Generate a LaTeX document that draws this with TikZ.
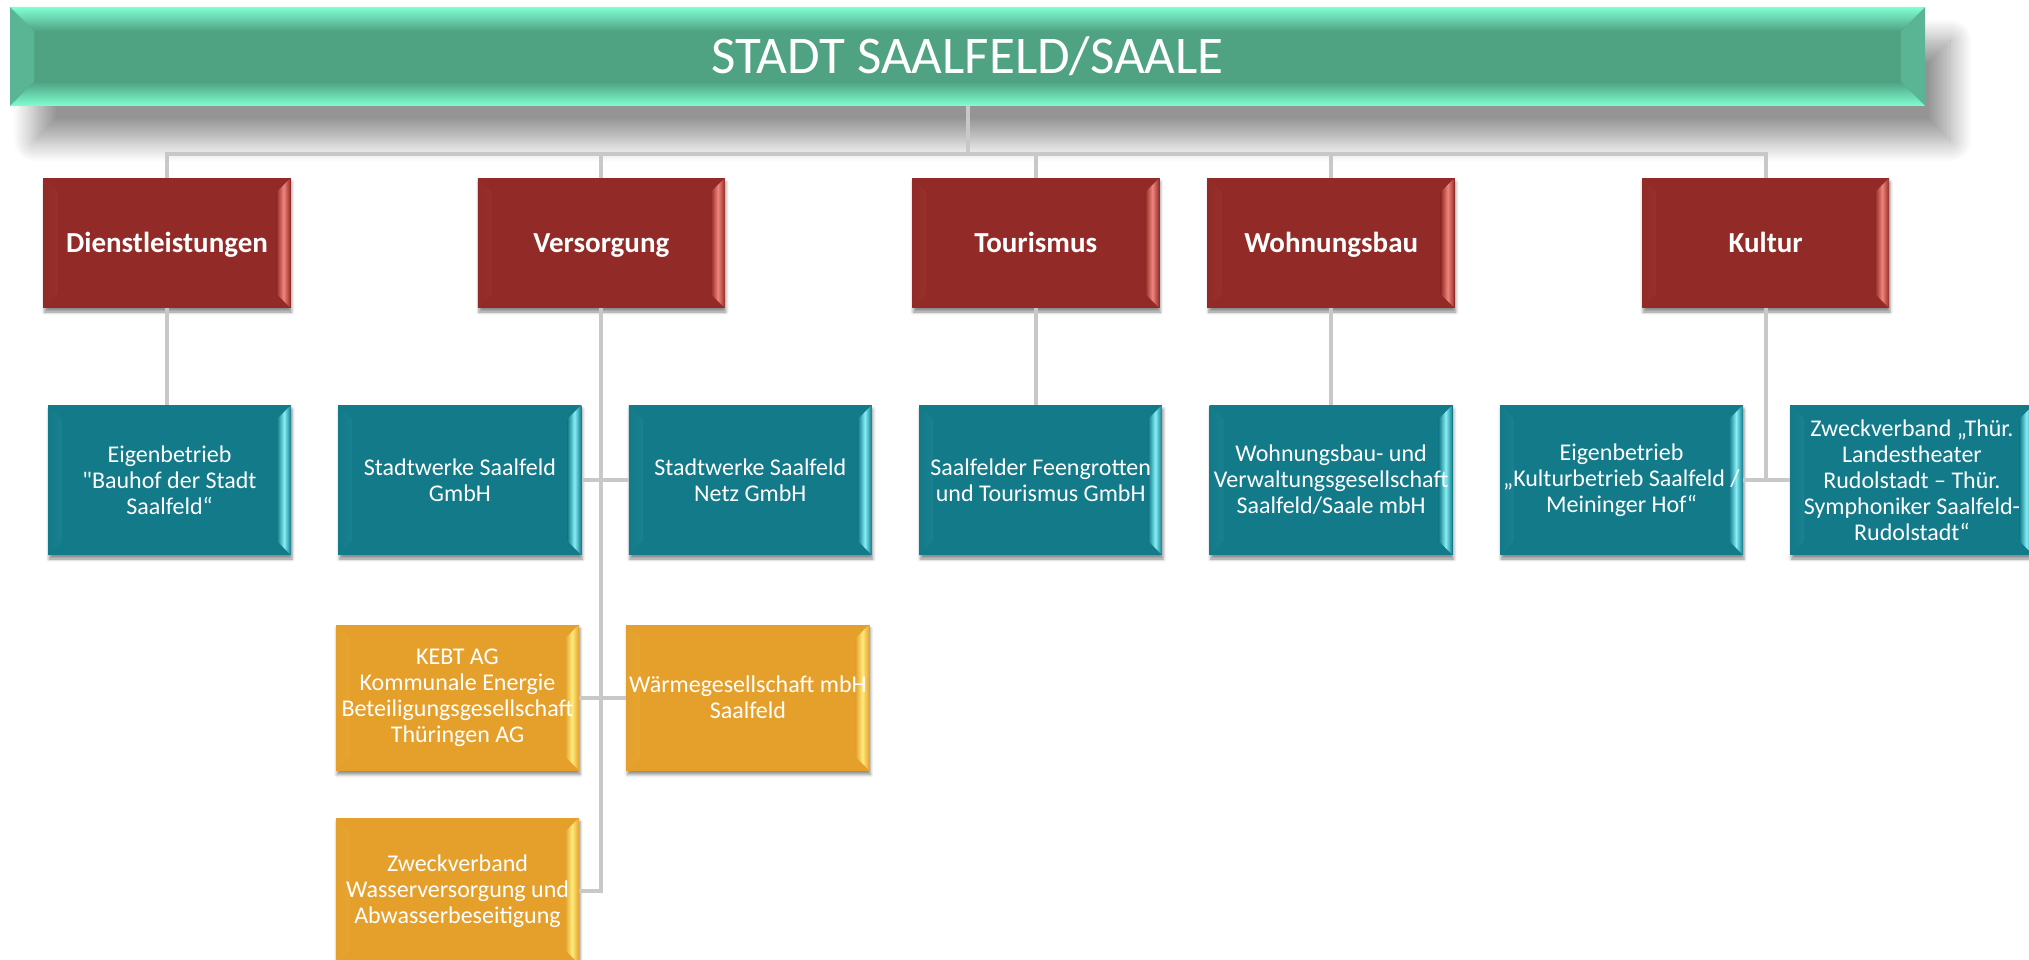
\documentclass[tikz,border=0pt]{standalone}
\usepackage{fontspec}
\setmainfont{Carlito}
\usetikzlibrary{positioning,shadows.blur}

\definecolor{bannergreen}{HTML}{4FA383}
\definecolor{bannerlight}{HTML}{80FFD2}
\definecolor{boxred}{HTML}{922B27}
\definecolor{boxredlight}{HTML}{F0857C}
\definecolor{boxteal}{HTML}{127A89}
\definecolor{boxteallight}{HTML}{86EEF5}
\definecolor{boxorange}{HTML}{E5A02C}
\definecolor{boxorangelight}{HTML}{FFEB7A}
\definecolor{linegrey}{HTML}{C8C8C8}

\begin{document}
\begin{tikzpicture}[x=1pt, y=-1pt,
    sidebevel/.style 2 args={path picture={
        \shade[left color=#1, right color=#2]
            (path picture bounding box.north west)
            -- ([shift={(14pt,-14pt)}]path picture bounding box.north west)
            -- ([shift={(14pt,14pt)}]path picture bounding box.south west)
            -- (path picture bounding box.south west) -- cycle;
        \shade[left color=#1, right color=#1, middle color=#2]
            (path picture bounding box.north east)
            -- ([shift={(-14pt,-14pt)}]path picture bounding box.north east)
            -- ([shift={(-14pt,14pt)}]path picture bounding box.south east)
            -- (path picture bounding box.south east) -- cycle;
    }},
    bannerbox/.style={rectangle, fill=bannergreen, minimum width=1915pt, minimum height=99pt,
        inner sep=0pt, text=white, font=\fontsize{53}{60}\selectfont,
        blur shadow={shadow xshift=25pt, shadow yshift=-34pt, shadow blur radius=22pt,
            shadow blur steps=20, shadow opacity=42},
        path picture={
            \fill[bannergreen!80!bannerlight]
                (path picture bounding box.north west)
                -- ([shift={(24pt,-24pt)}]path picture bounding box.north west)
                -- ([shift={(24pt,24pt)}]path picture bounding box.south west)
                -- (path picture bounding box.south west) -- cycle;
            \fill[bannergreen!80!bannerlight]
                (path picture bounding box.north east)
                -- ([shift={(-24pt,-24pt)}]path picture bounding box.north east)
                -- ([shift={(-24pt,24pt)}]path picture bounding box.south east)
                -- (path picture bounding box.south east) -- cycle;
            \shade[top color=bannerlight, bottom color=bannergreen]
                (path picture bounding box.north west)
                -- (path picture bounding box.north east)
                -- ([shift={(-24pt,-24pt)}]path picture bounding box.north east)
                -- ([shift={(24pt,-24pt)}]path picture bounding box.north west) -- cycle;
            \shade[top color=bannergreen, bottom color=bannerlight]
                (path picture bounding box.south west)
                -- (path picture bounding box.south east)
                -- ([shift={(-24pt,24pt)}]path picture bounding box.south east)
                -- ([shift={(24pt,24pt)}]path picture bounding box.south west) -- cycle;
        }},
    topbox/.style={rectangle, fill=boxred, minimum width=247pt, minimum height=130pt, inner sep=0pt,
        text=white, text height=20pt, text depth=2pt, font=\fontsize{29}{34}\selectfont\bfseries,
        sidebevel={boxred}{boxredlight},
        blur shadow={shadow xshift=1pt, shadow yshift=-4pt, shadow blur radius=3pt, shadow opacity=45}},
    firmbox/.style={rectangle, fill=boxteal, minimum width=243pt, minimum height=150pt, inner sep=0pt,
        text=white, align=center, font=\fontsize{24}{26}\selectfont, sidebevel={boxteal}{boxteallight},
        blur shadow={shadow xshift=1pt, shadow yshift=-4pt, shadow blur radius=3pt, shadow opacity=45}},
    partbox/.style={firmbox, fill=boxorange, minimum height=146pt, sidebevel={boxorange}{boxorangelight}},
    linkline/.style={draw=linegrey, line width=4pt}]

    \useasboundingbox (0,0) rectangle (2029,960);

    \node[bannerbox] (stadt) at (967.5,56.5) {STADT SAALFELD/SAALE};
    \coordinate (bus) at (967.5,154);

    \node[topbox] (dienst) at (167,243) {Dienstleistungen};
    \node[topbox] (vers) [right=187pt of dienst] {Versorgung};
    \node[topbox] (tour) [right=187pt of vers] {Tourismus};
    \node[topbox] (wohn) [right=48pt of tour] {Wohnungsbau};
    \node[topbox] (kultur) [right=187pt of wohn] {Kultur};

    \node[firmbox] (bauhof) at (169.5,480) {Eigenbetrieb\\\textquotedbl Bauhof der Stadt\\Saalfeld“};
    \node[firmbox] (swsaal) [right=47pt of bauhof] {Stadtwerke Saalfeld\\GmbH};
    \node[firmbox] (swnetz) [right=47pt of swsaal] {Stadtwerke Saalfeld\\Netz GmbH};
    \node[firmbox] (feen) [right=47pt of swnetz] {Saalfelder Feengrotten\\und Tourismus GmbH};
    \node[firmbox] (wbv) [right=47pt of feen] {Wohnungsbau- und\\Verwaltungsgesellschaft\\Saalfeld/Saale mbH};
    \node[firmbox] (kbetr) [right=47pt of wbv] {Eigenbetrieb\\„Kulturbetrieb Saalfeld /\\Meininger Hof“};
    \node[firmbox] (theater) [right=47pt of kbetr] {Zweckverband „Thür.\\Landestheater\\Rudolstadt – Thür.\\Symphoniker Saalfeld-\\Rudolstadt“};

    \node[partbox] (kebt) at (457.5,697.5) {KEBT AG\\Kommunale Energie\\Beteiligungsgesellschaft\\Thüringen AG};
    \node[partbox] (waerme) [right=47pt of kebt] {Wärmegesellschaft mbH\\Saalfeld};
    \node[partbox] (zwav) [below=47pt of kebt] {Zweckverband\\Wasserversorgung und\\Abwasserbeseitigung};

    % connectors
    \draw[linkline] (stadt.south) -- (bus);
    \draw[linkline] (dienst.north) |- (bus) -| (kultur.north);
    \draw[linkline] (vers.north) -- (vers.north |- bus);
    \draw[linkline] (tour.north) -- (tour.north |- bus);
    \draw[linkline] (wohn.north) -- (wohn.north |- bus);

    \draw[linkline] (dienst.south) -- (dienst.south |- bauhof.north);
    \draw[linkline] (vers.south) -- (vers.south |- zwav.east) -- (zwav.east);
    \draw[linkline] (swsaal.east) -- (swnetz.west);
    \draw[linkline] (kebt.east) -- (waerme.west);
    \draw[linkline] (tour.south) -- (tour.south |- feen.north);
    \draw[linkline] (wohn.south) -- (wohn.south |- wbv.north);
    \draw[linkline] (kultur.south) -- (kultur.south |- theater.west);
    \draw[linkline] (kbetr.east) -- (theater.west);

\end{tikzpicture}
\end{document}
